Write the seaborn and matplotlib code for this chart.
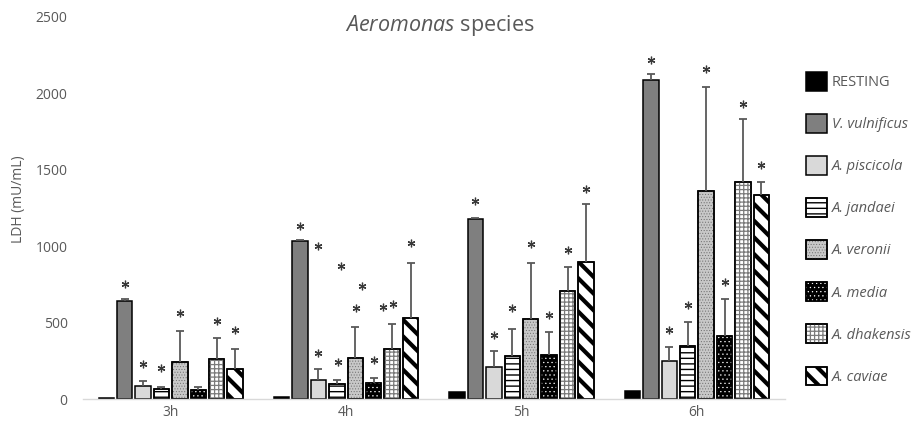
import numpy as np
import pandas as pd
import seaborn as sns
import matplotlib
matplotlib.use("Agg")
import matplotlib.pyplot as plt
from matplotlib.patches import Rectangle, Patch
from matplotlib.legend_handler import HandlerTuple, HandlerPatch

# ---------------------------------------------------------------- data
times = ["3h", "4h", "5h", "6h"]
strains = ["RESTING", "V. vulnificus", "A. piscicola", "A. jandaei",
           "A. veronii", "A. media", "A. dhakensis", "A. caviae"]

# mean LDH release (mU/mL), one value per time point
resting = [10, 14, 50, 56]
v_vulnificus = [645, 1036, 1178, 2090]
a_piscicola = [87, 128, 209, 253]
a_jandaei = [65, 102, 281, 347]
a_veronii = [242, 272, 526, 1361]
a_media = [61, 105, 292, 416]
a_dhakensis = [266, 329, 709, 1420]
a_caviae = [198, 532, 897, 1339]

# upper error (SD), one value per time point
resting_sd = [0, 0, 0, 0]
v_vulnificus_sd = [10, 8, 5, 40]
a_piscicola_sd = [33, 70, 107, 92]
a_jandaei_sd = [17, 22, 181, 157]
a_veronii_sd = [205, 203, 368, 678]
a_media_sd = [21, 36, 146, 242]
a_dhakensis_sd = [137, 166, 159, 410]
a_caviae_sd = [133, 362, 377, 85]

# significance marks: time, strain, height (mU/mL), sideways shift (bar slots)
star_time = ["3h", "3h", "3h", "3h", "3h", "3h",
             "4h", "4h", "4h", "4h", "4h", "4h", "4h", "4h", "4h", "4h", "4h",
             "5h", "5h", "5h", "5h", "5h", "5h", "5h",
             "6h", "6h", "6h", "6h", "6h", "6h", "6h"]
star_strain = ["V. vulnificus", "A. piscicola", "A. jandaei", "A. veronii", "A. dhakensis", "A. caviae",
               "V. vulnificus", "A. piscicola", "A. piscicola", "A. jandaei", "A. jandaei",
               "A. veronii", "A. veronii", "A. media", "A. dhakensis", "A. dhakensis", "A. caviae",
               "V. vulnificus", "A. piscicola", "A. jandaei", "A. veronii", "A. media", "A. dhakensis", "A. caviae",
               "V. vulnificus", "A. piscicola", "A. jandaei", "A. veronii", "A. media", "A. dhakensis", "A. caviae"]
star_height = [755, 233, 203, 567, 512, 452,
               1136, 1003, 305, 870, 244, 740, 596, 259, 606, 622, 1023,
               1300, 421, 596, 1014, 550, 977, 1374,
               2221, 454, 617, 2160, 766, 1931, 1529]
star_shift = [0, 0, 0, 0, 0, 0,
              0, 0, 0, 0.2, 0.05, 0.38, 0.05, 0, -0.47, 0.02, 0,
              0, 0, 0, 0, 0, 0, 0,
              0, 0, 0, 0, 0, 0, 0]

means = [resting, v_vulnificus, a_piscicola, a_jandaei,
         a_veronii, a_media, a_dhakensis, a_caviae]
sds = [resting_sd, v_vulnificus_sd, a_piscicola_sd, a_jandaei_sd,
       a_veronii_sd, a_media_sd, a_dhakensis_sd, a_caviae_sd]

df = pd.DataFrame({
    "time": np.tile(times, len(strains)),
    "strain": np.repeat(strains, len(times)),
    "ldh": np.concatenate(means),
    "sd": np.concatenate(sds),
})

# ---------------------------------------------------------------- style
sns.set_theme(style="white")
plt.rcParams["font.family"] = ["Open Sans", "DejaVu Sans"]
plt.rcParams["mathtext.fontset"] = "custom"
plt.rcParams["mathtext.it"] = "Open Sans:italic"
plt.rcParams["mathtext.rm"] = "Open Sans"
TXT = "#595959"

# per strain: face, hatch, hatch colour, hatch width (pt)
looks = {
    "RESTING":       ("#000000", None, None, 0),
    "V. vulnificus": ("#7f7f7f", None, None, 0),
    "A. piscicola":  ("#d9d9d9", None, None, 0),
    "A. jandaei":    ("#ffffff", "---", "#000000", 1.0),
    "A. veronii":    ("#c8c8c8", "......", "#6e6e6e", 0.4),
    "A. media":      ("#000000", "....", "#ffffff", 0.4),
    "A. dhakensis":  ("#ffffff", "++++", "#7a7a7a", 0.9),
    "A. caviae":     ("#ffffff", "\\\\", "#000000", 3.0),
}


class HatchRect(Rectangle):
    """Rectangle whose hatch is drawn with its own line width."""

    def __init__(self, *args, hatch_lw=1.0, **kwargs):
        with plt.rc_context({"hatch.linewidth": hatch_lw}):
            super().__init__(*args, **kwargs)
        self.hatch_lw = hatch_lw
        if hasattr(self, "set_hatch_linewidth"):
            self.set_hatch_linewidth(hatch_lw)

    def draw(self, renderer):
        with plt.rc_context({"hatch.linewidth": self.hatch_lw}):
            if hasattr(self, "set_hatch_linewidth"):
                self.set_hatch_linewidth(self.hatch_lw)
            super().draw(renderer)


fig = plt.figure(figsize=(9.15, 4.22), dpi=100)
ax = fig.add_axes([83 / 915, 1 - 399.3 / 422, 701.6 / 915, 382.3 / 422])

sns.barplot(data=df, x="time", y="ldh", hue="strain", order=times,
            hue_order=strains, errorbar=None, width=0.84, gap=0.16,
            legend=False, ax=ax, zorder=2)
ax.set_xlim(-0.5, len(times) - 0.5)

centers = {}
for strain, cont in zip(strains, ax.containers):
    face, hatch, hcolor, hlw = looks[strain]
    for t, bar in zip(times, cont.patches):
        bar.set_facecolor(face)
        bar.set_edgecolor("#000000")
        bar.set_linewidth(1.1)
        x, w, h = bar.get_x(), bar.get_width(), bar.get_height()
        centers[(t, strain)] = (x + w / 2, h, w)
        if hatch:
            ax.add_patch(HatchRect((x, 0), w, h, facecolor="none", edgecolor=hcolor,
                                   hatch=hatch, linewidth=0, zorder=2.1,
                                   hatch_lw=hlw))
            ax.add_patch(Rectangle((x, 0), w, h, fill=False, edgecolor="#000000",
                                   linewidth=1.1, zorder=2.2))

# one-sided error bars
for strain, sd in zip(strains, sds):
    for t, s in zip(times, sd):
        if s <= 0:
            continue
        cx, h, _ = centers[(t, strain)]
        _, caps, _ = ax.errorbar([cx], [h], yerr=[[0], [s]], fmt="none",
                                 ecolor="#595959", elinewidth=1.3,
                                 capsize=2.6, capthick=1.3, zorder=3)
        caps[0].set_visible(False)

# significance marks
slot = 0.84 / len(strains)
for t, st, hgt, sh in zip(star_time, star_strain, star_height, star_shift):
    cx = centers[(t, st)][0] + sh * slot
    ax.plot([cx], [hgt], marker=(6, 2, 0), markersize=5.5, mew=0.9,
            color="#3a3a3a", linestyle="none", zorder=4)

ax.set_ylim(0, 2500)
ax.set_yticks(range(0, 2501, 500))
ax.set_xlabel("")
ax.set_ylabel("")
for side in ("top", "right", "left"):
    ax.spines[side].set_visible(False)
ax.spines["bottom"].set_color("#d9d9d9")
ax.spines["bottom"].set_linewidth(1.0)
ax.tick_params(axis="both", length=0, labelcolor=TXT, labelsize=10)
ax.tick_params(axis="y", pad=11)
ax.tick_params(axis="x", pad=4)

fig.text(440 / 915, 1 - 25 / 422, r"$\it{Aeromonas}$ species", ha="center",
         va="center", fontsize=15.5, color=TXT)
fig.text(19 / 915, 1 - 199 / 422, "LDH (mU/mL)", rotation=90, ha="center",
         va="center", fontsize=10, color=TXT)


# legend
def legend_rect(legend, orig_handle, xdescent, ydescent, width, height, fontsize):
    return HatchRect((-xdescent, -ydescent), width, height,
                     hatch_lw=getattr(orig_handle, "hatch_lw", 1.0))


handles = []
for strain in strains:
    face, hatch, hcolor, hlw = looks[strain]
    base = Patch(facecolor=face, edgecolor="#000000", linewidth=1.1)
    if hatch:
        over = Patch(facecolor="none", edgecolor=hcolor, hatch=hatch, linewidth=0)
        over.hatch_lw = hlw
        edge = Patch(fill=False, edgecolor="#000000", linewidth=1.1)
        handles.append((base, over, edge))
    else:
        handles.append(base)

leg = fig.legend(handles, strains, loc="upper left",
                 bbox_to_anchor=(806 / 915, 1 - 72 / 422), frameon=False,
                 fontsize=10.5, handlelength=1.45, handleheight=1.6,
                 handletextpad=0.3, labelspacing=1.6, borderpad=0,
                 borderaxespad=0,
                 handler_map={tuple: HandlerTuple(ndivide=1, pad=0),
                              Patch: HandlerPatch(patch_func=legend_rect)})
for txt, strain in zip(leg.get_texts(), strains):
    txt.set_color(TXT)
    if strain != "RESTING":
        txt.set_fontstyle("italic")

fig.savefig("out.png", dpi=100)
